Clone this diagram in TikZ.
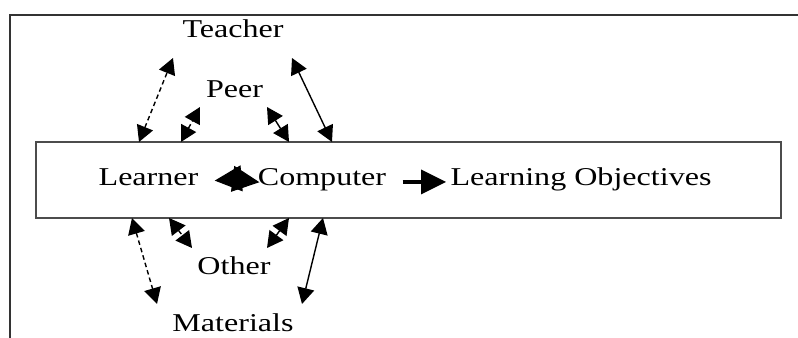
\documentclass[tikz,border=0pt]{standalone}
\usepackage{fontspec}
\setmainfont{Liberation Serif}
\usetikzlibrary{arrows.meta}
\tikzset{
  lbl/.style={anchor=base,inner sep=0pt,xscale=1.25,font=\fontsize{14.6}{16}\selectfont},
  link/.style={{Triangle[length=0.32cm,width=0.34cm]}-{Triangle[length=0.32cm,width=0.34cm]},line width=0.8pt},
  dlink/.style={link,dash pattern=on 2.6pt off 1.8pt},
  startip/.style={line width=0.6pt,-{Triangle[length=0.54cm,width=0.52cm]}}
}
\begin{document}
\begin{tikzpicture}
  \useasboundingbox (0,0) rectangle (15.96,6.76);
  % frame
  \draw[line width=1.1pt,black!80] (0.2,0) -- (0.2,6.46) -- (15.96,6.46);
  \draw[line width=0.8pt,black!70] (0.72,2.4) rectangle (15.62,3.92);
  % labels
  \node[lbl] (teacher) at (4.66,6.0) {Teacher};
  \node[lbl] (peer) at (4.69,4.8) {Peer};
  \node[lbl] (learner) at (2.97,3.04) {Learner};
  \node[lbl] (computer) at (6.44,3.04) {Computer};
  \node[lbl] (objectives) at (11.62,3.04) {Learning Objectives};
  \node[lbl] (other) at (4.68,1.26) {Other};
  \node[lbl] (materials) at (4.66,0.12) {Materials};
  % ends of the links
  \coordinate (t1) at (3.46,5.6);  \coordinate (b1) at (2.78,3.92);
  \coordinate (t2) at (5.84,5.6);  \coordinate (b2) at (6.64,3.92);
  \coordinate (p1) at (4.0,4.62);  \coordinate (b3) at (3.62,3.92);
  \coordinate (p2) at (5.34,4.62); \coordinate (b4) at (5.78,3.92);
  \coordinate (m1) at (3.14,0.68); \coordinate (c1) at (2.64,2.4);
  \coordinate (m2) at (6.04,0.68); \coordinate (c2) at (6.46,2.4);
  \coordinate (o1) at (3.84,1.8);  \coordinate (c3) at (3.38,2.4);
  \coordinate (o2) at (5.34,1.8);  \coordinate (c4) at (5.78,2.4);
  \coordinate (lc) at (4.68,3.18);
  % upper links
  \draw[dlink] (b1) -- (t1);
  \draw[link] (t2) -- (b2);
  \draw[dlink] (b3) -- (p1);
  \draw[link] (p2) -- (b4);
  % lower links
  \draw[dlink] (c1) -- (m1);
  \draw[link] (c2) -- (m2);
  \draw[dlink] (c3) -- (o1);
  \draw[link] (c4) -- (o2);
  % inside the box
  \draw[startip,shorten >=0.32cm] (lc) -- (learner.mid east);
  \draw[startip,shorten >=-0.04cm] (lc) -- (computer.mid west);
  \draw[line width=2pt,-{Triangle[length=0.5cm,width=0.48cm]},
        shorten <=0.32cm,shorten >=0.08cm] (computer.mid east) -- (objectives.mid west);
\end{tikzpicture}
\end{document}
